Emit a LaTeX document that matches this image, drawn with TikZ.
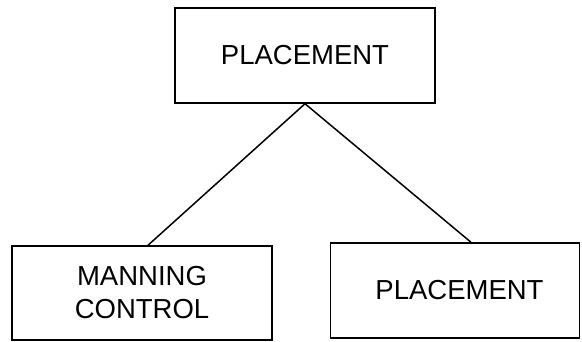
\documentclass[tikz,border=0pt]{standalone}
\usepackage{fontspec}
\setmainfont{Liberation Sans}
\begin{document}
\begin{tikzpicture}[x=1pt,y=-1pt,
  box/.style={draw=black,line width=1.5pt,inner sep=0pt,align=center,
    font=\fontsize{27.5}{33}\selectfont},
  conn/.style={draw=black,line width=1.5pt}]
\useasboundingbox (0,0) rectangle (582,341);
\node[box,minimum width=260pt,minimum height=95pt] (top) at (305,55.5) {PLACEMENT};
\node[box,minimum width=260pt,minimum height=94pt] (bl) at (142,293) {MANNING\\CONTROL};
\node[box,minimum width=249pt,minimum height=95pt] (br) at (455,290.5) {\hspace*{9pt}PLACEMENT};
\draw[conn] (top.south) -- ([xshift=6pt]bl.north);
\draw[conn] (top.south) -- ([xshift=16pt]br.north);
\end{tikzpicture}
\end{document}
